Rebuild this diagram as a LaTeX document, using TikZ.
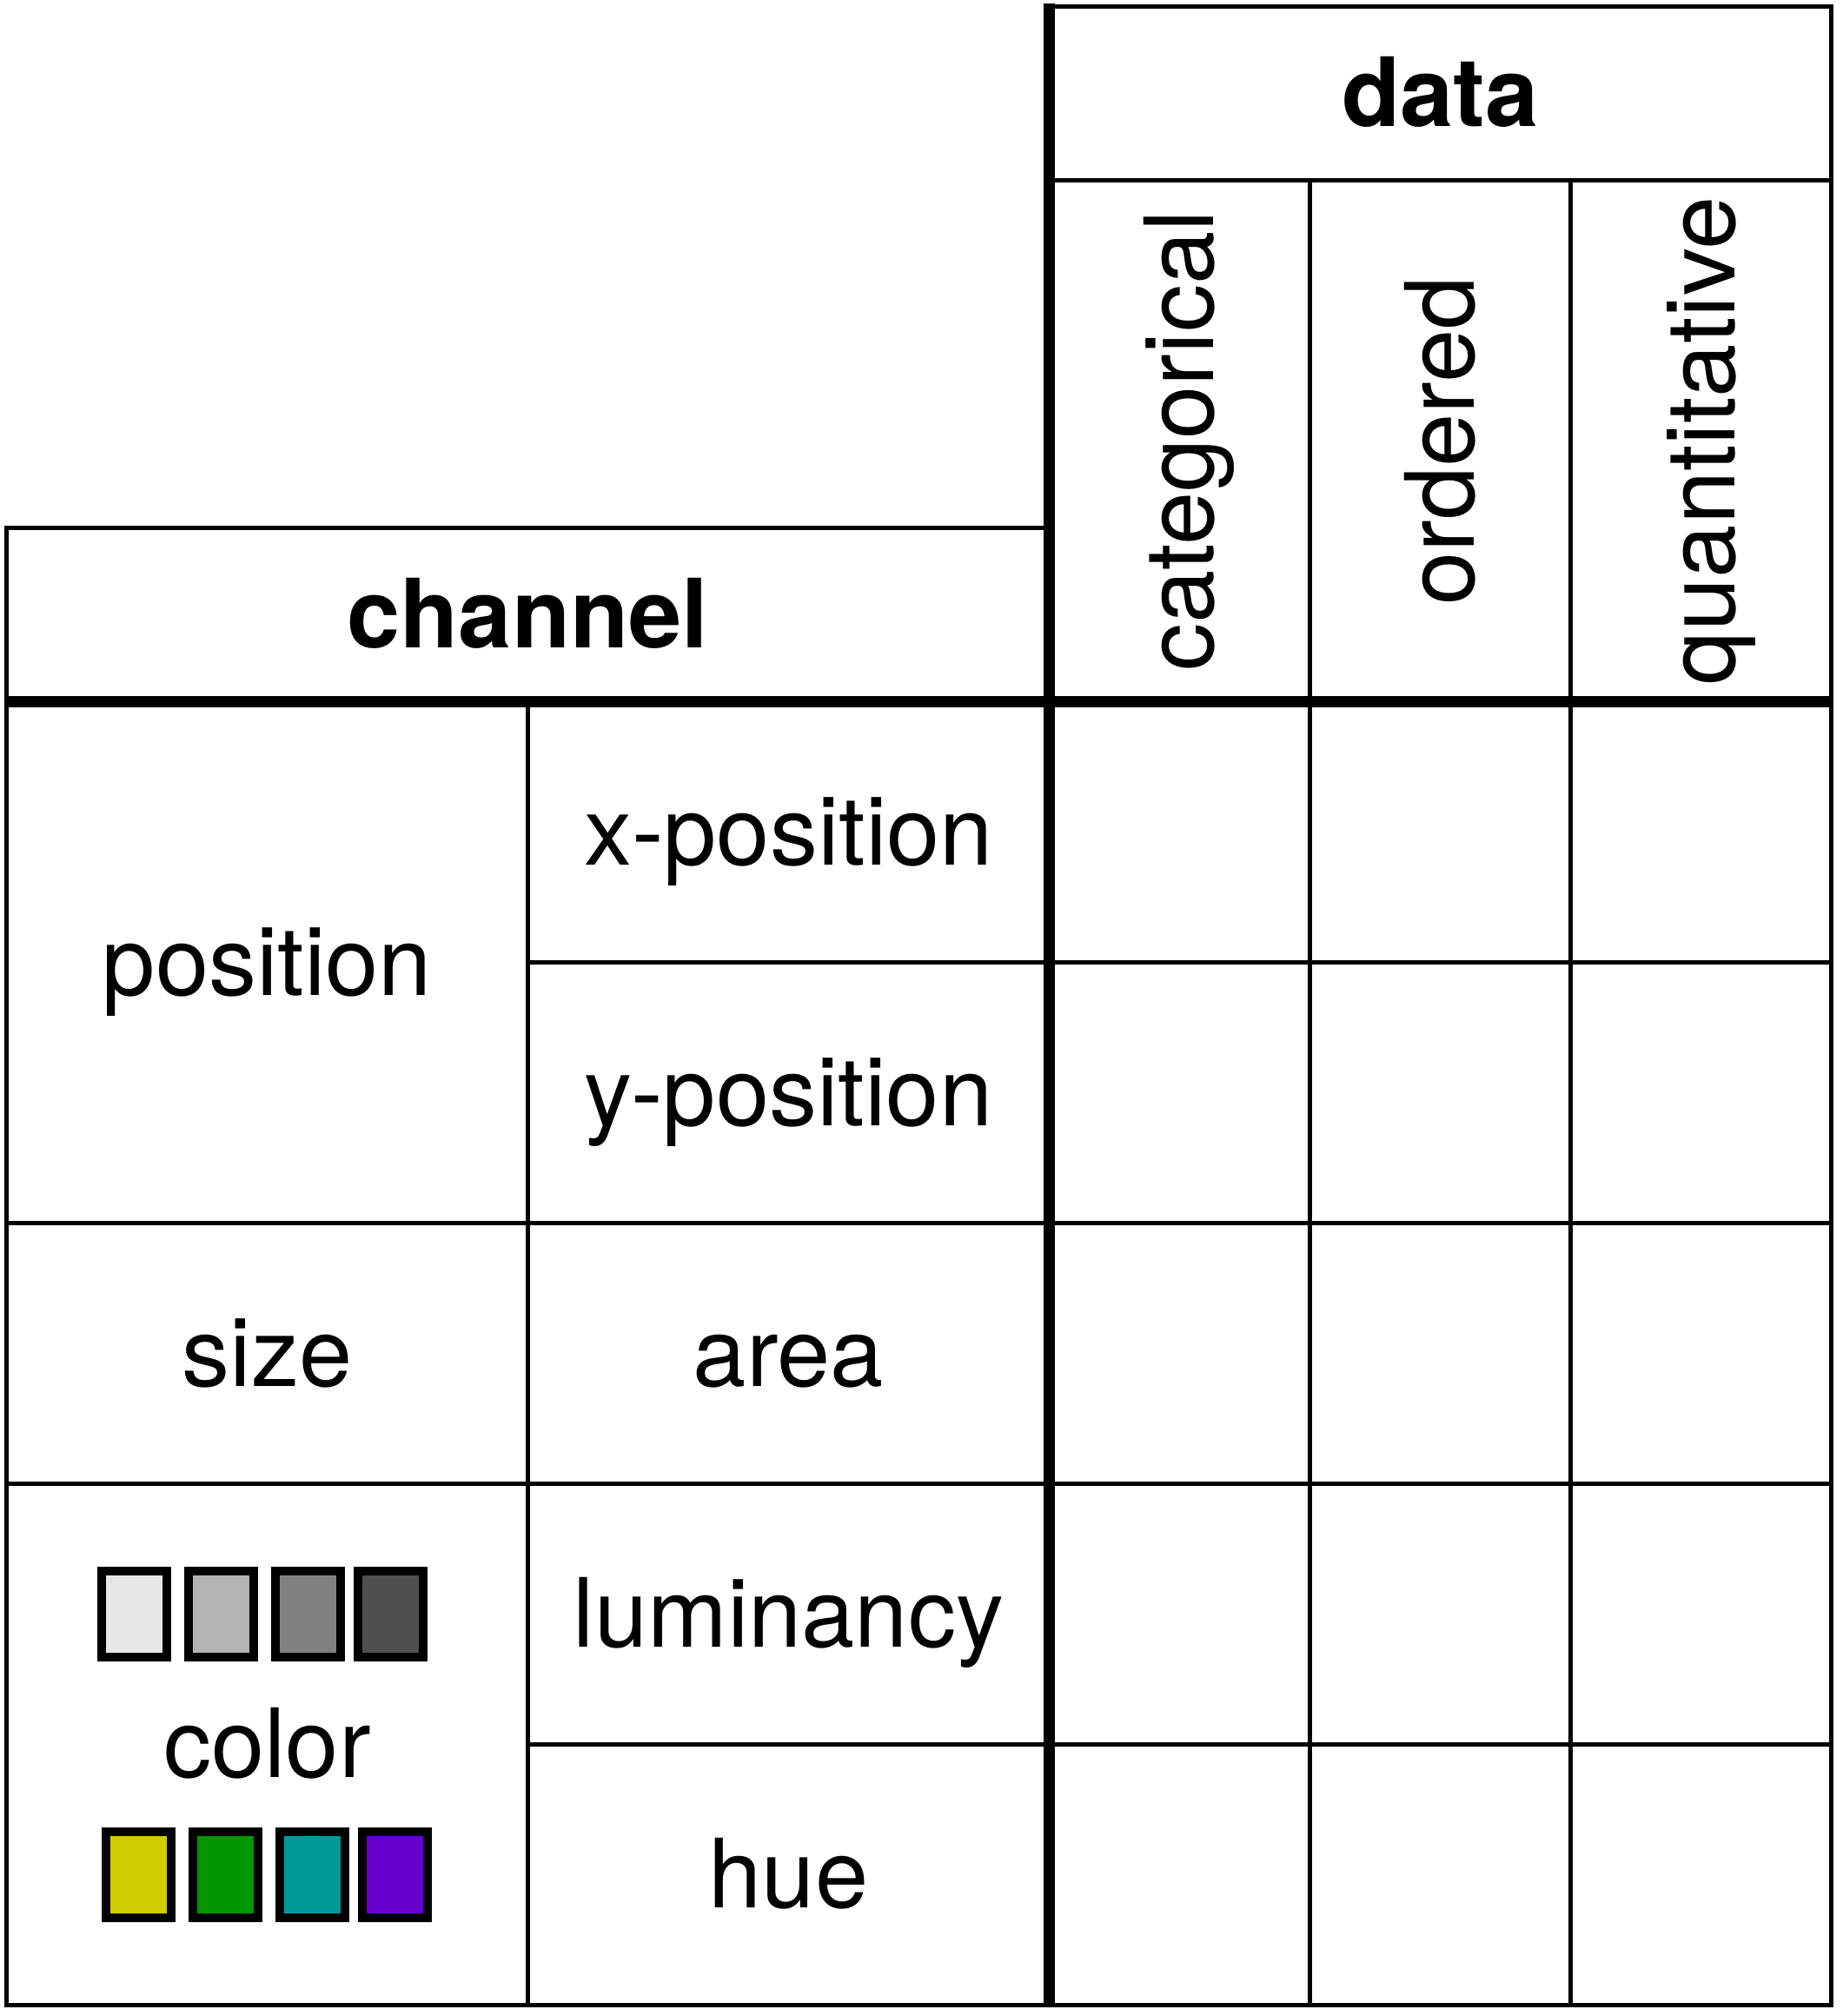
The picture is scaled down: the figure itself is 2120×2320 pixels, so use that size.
\documentclass[tikz,border=0pt]{standalone}
\usepackage{fontspec}
\setmainfont{TeX Gyre Heros}
\definecolor{gA}{HTML}{E6E6E6}
\definecolor{gB}{HTML}{B3B3B3}
\definecolor{gC}{HTML}{808080}
\definecolor{gD}{HTML}{4F4F4F}
\definecolor{hA}{HTML}{CFCC00}
\definecolor{hB}{HTML}{009600}
\definecolor{hC}{HTML}{009999}
\definecolor{hD}{HTML}{6600CC}
\tikzset{
  thinline/.style={line width=0.05cm, line cap=rect},
  thickline/.style={line width=0.13cm, line cap=butt},
  lbl/.style={anchor=base, inner sep=0pt, font=\fontsize{31.3}{36}\selectfont},
  blbl/.style={lbl, font=\fontsize{31.3}{36}\selectfont\bfseries},
  vlbl/.style={lbl, rotate=90},
  swatch/.style={draw=black, line width=0.1cm, inner sep=0pt, minimum width=0.75cm, minimum height=0.996cm}
}
\begin{document}
\begin{tikzpicture}[x=0.01cm, y=-0.01cm]
\useasboundingbox (0,0) rectangle (2120,2320);
% data header
\draw[thinline] (1207.5,7.5) -- (2107.5,7.5) -- (2107.5,2307.5);
\draw[thinline] (1207.5,207.5) -- (2107.5,207.5);
\draw[thinline] (1507.5,207.5) -- (1507.5,2307.5);
\draw[thinline] (1807.5,207.5) -- (1807.5,2307.5);
% channel header
\draw[thinline] (1207.5,607.5) -- (7.5,607.5) -- (7.5,2307.5) -- (2107.5,2307.5);
\draw[thinline] (607.5,807.5) -- (607.5,2307.5);
% rows
\draw[thinline] (607.5,1107.5) -- (2107.5,1107.5);
\draw[thinline] (7.5,1407.5) -- (2107.5,1407.5);
\draw[thinline] (7.5,1707.5) -- (2107.5,1707.5);
\draw[thinline] (607.5,2007.5) -- (2107.5,2007.5);
% thick separators
\draw[thickline] (5,807.5) -- (2110,807.5);
\draw[thickline] (1207.5,4) -- (1207.5,2310);
% labels
\node[blbl] (channel) at (607.5,745.5) {channel};
\node[blbl] (data) at (1657.5,145.5) {data};
\node[vlbl] (categorical) at (1396.5,507.5) {categorical};
\node[vlbl] (ordered) at (1696.5,507.5) {ordered};
\node[vlbl] (quantitative) at (1996.5,507.5) {quantitative};
\node[lbl] (position) at (307.5,1145.5) {position};
\node[lbl] (xpos) at (907.5,995.5) {x-position};
\node[lbl] (ypos) at (907.5,1295.5) {y-position};
\node[lbl] (size) at (307.5,1595.5) {size};
\node[lbl] (area) at (907.5,1595.5) {area};
\node[lbl] (color) at (307.5,2045.5) {color};
\node[lbl] (lum) at (907.5,1895.5) {luminancy};
\node[lbl] (hue) at (907.5,2195.5) {hue};
% swatches
\node[swatch, fill=gA] (g1) at (154.8,1857.5) {};
\node[swatch, fill=gB] (g2) at (254.8,1857.5) {};
\node[swatch, fill=gC] (g3) at (354.8,1857.5) {};
\node[swatch, fill=gD] (g4) at (449.8,1857.5) {};
\node[swatch, fill=hA] (h1) at (159.8,2157.5) {};
\node[swatch, fill=hB] (h2) at (259.8,2157.5) {};
\node[swatch, fill=hC] (h3) at (359.8,2157.5) {};
\node[swatch, fill=hD] (h4) at (454.8,2157.5) {};
\end{tikzpicture}
\end{document}
